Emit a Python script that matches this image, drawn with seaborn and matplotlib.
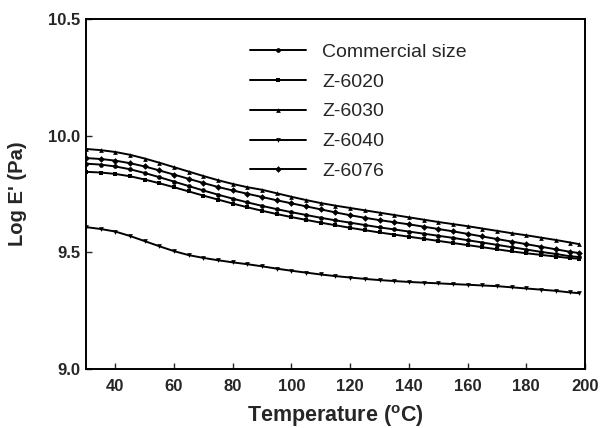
import matplotlib
matplotlib.use("Agg")
import matplotlib.pyplot as plt
import seaborn as sns
import pandas as pd

# ─────────────────────────────────────────────────────────────
# DADOS
# ─────────────────────────────────────────────────────────────

temperatura = [30, 35, 40, 45, 50, 55, 60, 65, 70, 75, 80, 85, 90, 95, 100,
               105, 110, 115, 120, 125, 130, 135, 140, 145, 150, 155, 160,
               165, 170, 175, 180, 185, 190, 195, 198]

commercial = [9.880, 9.876, 9.868, 9.856, 9.840, 9.822, 9.803, 9.784, 9.765,
              9.747, 9.730, 9.714, 9.699, 9.685, 9.672, 9.660, 9.648, 9.637,
              9.627, 9.617, 9.607, 9.598, 9.589, 9.580, 9.571, 9.562, 9.552,
              9.542, 9.532, 9.522, 9.512, 9.502, 9.493, 9.483, 9.480]

z6020 = [9.845, 9.842, 9.836, 9.826, 9.812, 9.796, 9.779, 9.761, 9.743,
         9.726, 9.709, 9.693, 9.678, 9.664, 9.651, 9.639, 9.627, 9.616,
         9.605, 9.595, 9.585, 9.576, 9.567, 9.558, 9.549, 9.540, 9.531,
         9.522, 9.513, 9.504, 9.496, 9.489, 9.482, 9.475, 9.473]

z6030 = [9.943, 9.938, 9.930, 9.918, 9.902, 9.884, 9.865, 9.846, 9.827,
         9.809, 9.793, 9.779, 9.768, 9.753, 9.738, 9.724, 9.711, 9.700,
         9.690, 9.680, 9.670, 9.660, 9.650, 9.640, 9.630, 9.621, 9.612,
         9.602, 9.592, 9.582, 9.573, 9.563, 9.553, 9.542, 9.535]

z6040 = [9.608, 9.600, 9.589, 9.570, 9.548, 9.526, 9.505, 9.488, 9.476,
         9.466, 9.457, 9.449, 9.440, 9.430, 9.421, 9.413, 9.405, 9.398,
         9.392, 9.386, 9.381, 9.377, 9.373, 9.370, 9.367, 9.364, 9.361,
         9.358, 9.355, 9.350, 9.345, 9.340, 9.335, 9.328, 9.325]

z6076 = [9.904, 9.900, 9.893, 9.882, 9.868, 9.851, 9.833, 9.815, 9.797,
         9.780, 9.765, 9.751, 9.737, 9.723, 9.710, 9.697, 9.684, 9.671,
         9.659, 9.648, 9.638, 9.629, 9.620, 9.610, 9.600, 9.590, 9.579,
         9.568, 9.557, 9.546, 9.535, 9.524, 9.513, 9.502, 9.497]

amostras = ["Commercial size", "Z-6020", "Z-6030", "Z-6040", "Z-6076"]
series = [commercial, z6020, z6030, z6040, z6076]
marcadores = ["o", "s", "^", "v", "D"]

# tabela longa para o seaborn
df = pd.concat(
    [pd.DataFrame({"T": temperatura, "logE": vals, "amostra": nome})
     for nome, vals in zip(amostras, series)],
    ignore_index=True,
)

# ─────────────────────────────────────────────────────────────
# GRÁFICO
# ─────────────────────────────────────────────────────────────

sns.set_style("ticks")
plt.rcParams["font.family"] = ["Liberation Sans", "DejaVu Sans"]

fig = plt.figure(figsize=(6.0, 4.28), dpi=100)
ax = fig.add_axes([0.1433, 0.1379, 0.8317, 0.8177])

sns.lineplot(
    data=df, x="T", y="logE",
    hue="amostra", style="amostra", hue_order=amostras, style_order=amostras,
    palette={a: "black" for a in amostras},
    markers=dict(zip(amostras, marcadores)), dashes=False,
    markersize=3.4, linewidth=1.4, markeredgewidth=0,
    ax=ax,
)

ax.set_xlim(30, 200)
ax.set_ylim(9.0, 10.5)
ax.set_xticks(range(40, 201, 20))
ax.set_yticks([9.0, 9.5, 10.0, 10.5])
ax.set_yticklabels(["9.0", "9.5", "10.0", "10.5"])
ax.tick_params(direction="in", length=4, width=1, labelsize=12)
ax.tick_params(axis="x", pad=7)
ax.tick_params(axis="y", pad=4)
for lbl in ax.get_xticklabels() + ax.get_yticklabels():
    lbl.set_fontweight("bold")

for s in ax.spines.values():
    s.set_linewidth(1.4)
    s.set_color("black")

ax.set_xlabel("Temperature ($\\mathregular{^{o}}$C)", fontsize=15.5,
              fontweight="bold", labelpad=7)
ax.set_ylabel("Log E' (Pa)", fontsize=14.5, fontweight="bold", labelpad=15)

leg = ax.legend(
    loc="upper left", bbox_to_anchor=(0.329, 0.931), frameon=False,
    fontsize=14, handlelength=2.85, handletextpad=0.85, labelspacing=0.63,
    borderpad=0, borderaxespad=0,
)

fig.savefig("out.png", dpi=100)
